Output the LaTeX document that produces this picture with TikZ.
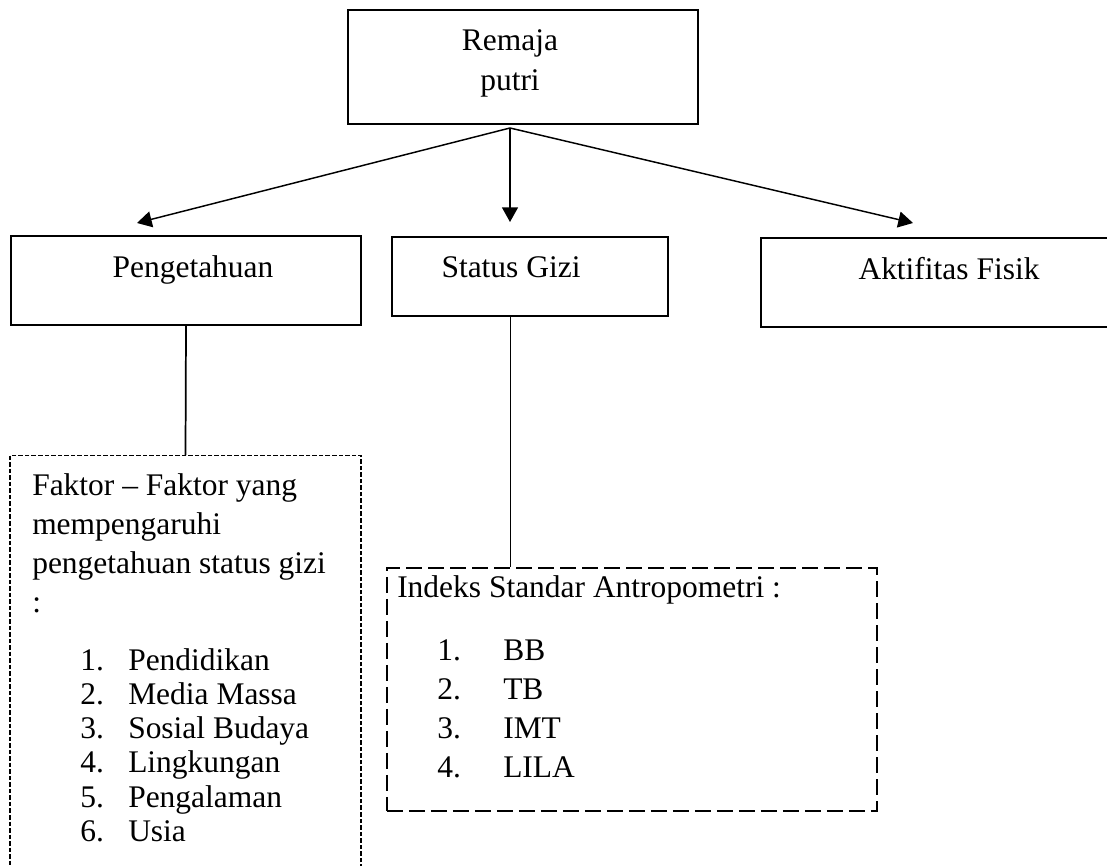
\documentclass[tikz,border=0pt]{standalone}
\usepackage{fontspec}
\setmainfont{Liberation Serif}
\usetikzlibrary{arrows.meta}

\newlength{\pxu}
\setlength{\pxu}{0.75pt}

\tikzset{
  box/.style={draw, line width=1.3pt, inner sep=0pt},
  fakbox/.style={draw, line width=0.8pt, dash pattern=on 3.4pt off 1.5pt, inner sep=0pt},
  idxbox/.style={draw, line width=1.2pt, dash pattern=on 12pt off 4.5pt, inner sep=0pt},
  txt/.style={inner sep=0pt, anchor=base west}
}

\begin{document}
\begin{tikzpicture}[x=0.75pt, y=-0.75pt, >={Triangle[length=11pt,width=12pt]},
    font=\fontsize{23.6}{30}\selectfont]
    \useasboundingbox (0,0) rectangle (1107,866);

    % Top box
    \node[box, anchor=north, minimum width=350\pxu, text height=41\pxu, text depth=73\pxu] (rem) at (523,9)
        {\begin{tabular}[t]{@{}c@{}}Remaja\\putri\end{tabular}\hspace*{26\pxu}};
    \coordinate (fork) at (510,128);

    % Second row
    \node[box, anchor=north, minimum width=350\pxu, text height=42\pxu, text depth=47\pxu] (peng) at (186,235)
        {\hspace*{14\pxu}Pengetahuan};
    \node[box, anchor=north, minimum width=276\pxu, text height=41\pxu, text depth=38\pxu] (stat) at (530,236)
        {Status Gizi\hspace*{38\pxu}};
    \node[box, anchor=north, minimum width=376\pxu, text height=42\pxu, text depth=47\pxu] (akt) at (949,237)
        {Aktifitas Fisik};

    % Arrows
    \coordinate (tipP) at (137,223);
    \coordinate (tipS) at (510,222);
    \coordinate (tipA) at (913,223);
    \draw[->, line width=1.1pt] (fork) -- (tipP);
    \draw[->, line width=1.1pt] (fork) -- (tipS);
    \draw[->, line width=1.1pt] (fork) -- (tipA);

    % Faktor box
    \node[fakbox, anchor=north, minimum width=351\pxu, minimum height=500\pxu] (fak) at (185.5,455) {};
    \draw[line width=1.3pt] (peng.south) -- (fak.north);
    \foreach \t [count=\i] in {Faktor -- Faktor yang, mempengaruhi, pengetahuan status gizi, :}
        \node[txt] (fh\i) at (32, 455.7+39.3*\i) {\t};
    \foreach \t [count=\i] in {Pendidikan, Media Massa, Sosial Budaya, Lingkungan, Pengalaman, Usia} {
        \node[txt] (fn\i) at (80, 636+34.2*\i) {\i.};
        \node[txt] (ft\i) at (128, 636+34.2*\i) {\t};
    }

    % Indeks box
    \node[idxbox, anchor=north west, minimum width=490\pxu, minimum height=243\pxu] (idx) at (386,567) {};
    \draw[line width=0.7pt] (stat.south -| fork) -- (idx.north -| fork);
    \node[txt] (ih) at (397,597) {Indeks Standar Antropometri :};
    \foreach \t [count=\i] in {BB, TB, IMT, LILA} {
        \node[txt] (in\i) at (437, 620.7+39.3*\i) {\i.};
        \node[txt] (it\i) at (503, 620.7+39.3*\i) {\t};
    }
\end{tikzpicture}
\end{document}
